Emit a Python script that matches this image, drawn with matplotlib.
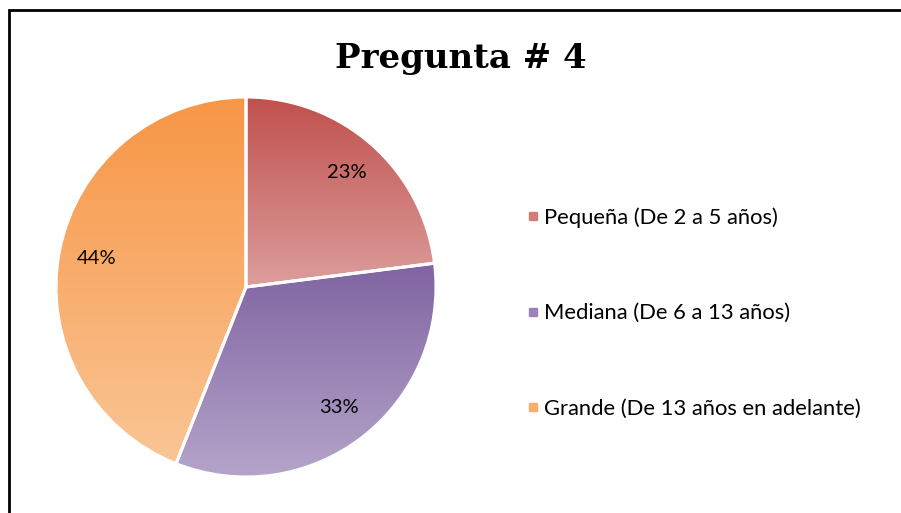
import numpy as np
import matplotlib.pyplot as plt
from matplotlib.colors import LinearSegmentedColormap
from matplotlib.lines import Line2D
from matplotlib.patches import Rectangle

# data
labels = ["Pequeña (De 2 a 5 años)", "Mediana (De 6 a 13 años)", "Grande (De 13 años en adelante)"]
values = [23, 33, 44]
top_colors = ["#C0504D", "#8064A2", "#F79646"]
bottom_colors = ["#DC9E9C", "#B5A5CA", "#FAC595"]
title = "Pregunta # 4"

W, H = 901, 513
fig = plt.figure(figsize=(W / 100, H / 100), dpi=100)

# outer chart border (cut off at right and bottom like the reference)
fig.patches.append(Rectangle((9 / W, -0.05), 1.2, (H - 10) / H + 0.05, transform=fig.transFigure,
                             fill=False, edgecolor="black", linewidth=2.0))

cx, cy, r = 246, 287, 190
ax = fig.add_axes([(cx - r) / W, (H - cy - r) / H, 2 * r / W, 2 * r / H])

wedges, texts, autotexts = ax.pie(values, startangle=90, counterclock=False, radius=1,
                                  autopct="%d%%", pctdistance=0.8,
                                  wedgeprops=dict(edgecolor="white", linewidth=2.2),
                                  textprops=dict(family="Lato", fontsize=14.5, color="#000000"))

grad = np.linspace(0, 1, 256).reshape(-1, 1)
for w, c0, c1 in zip(wedges, top_colors, bottom_colors):
    verts = w.get_path().vertices
    x0, x1 = verts[:, 0].min(), verts[:, 0].max()
    y0, y1 = verts[:, 1].min(), verts[:, 1].max()
    cmap = LinearSegmentedColormap.from_list("g", [c0, c1])
    im = ax.imshow(grad, cmap=cmap, extent=(x0, x1, y0, y1), origin="upper",
                   aspect="auto", zorder=w.get_zorder() - 0.1)
    im.set_clip_path(w)
    w.set_facecolor("none")

ax.set_xlim(-1, 1)
ax.set_ylim(-1, 1)
ax.set_aspect("equal")
ax.axis("off")

fig.text(461 / W, 1 - 59 / H, title, ha="center", va="center", family="DejaVu Serif",
         fontweight="bold", fontsize=24.5)

mid_colors = ["#CF7C7A", "#9A83B7", "#F8AD6B"]
handles = [Line2D([], [], marker="s", linestyle="none", markersize=6, markerfacecolor=c,
                  markeredgecolor=c) for c in mid_colors]
fig.legend(handles, labels, loc="center left", bbox_to_anchor=(523 / W, 1 - 313 / H),
           frameon=False, prop=dict(family="Lato", size=15.8), labelspacing=3.45,
           handletextpad=0.05, handlelength=0.9, borderaxespad=0, borderpad=0)

fig.savefig("out.png", dpi=100)
